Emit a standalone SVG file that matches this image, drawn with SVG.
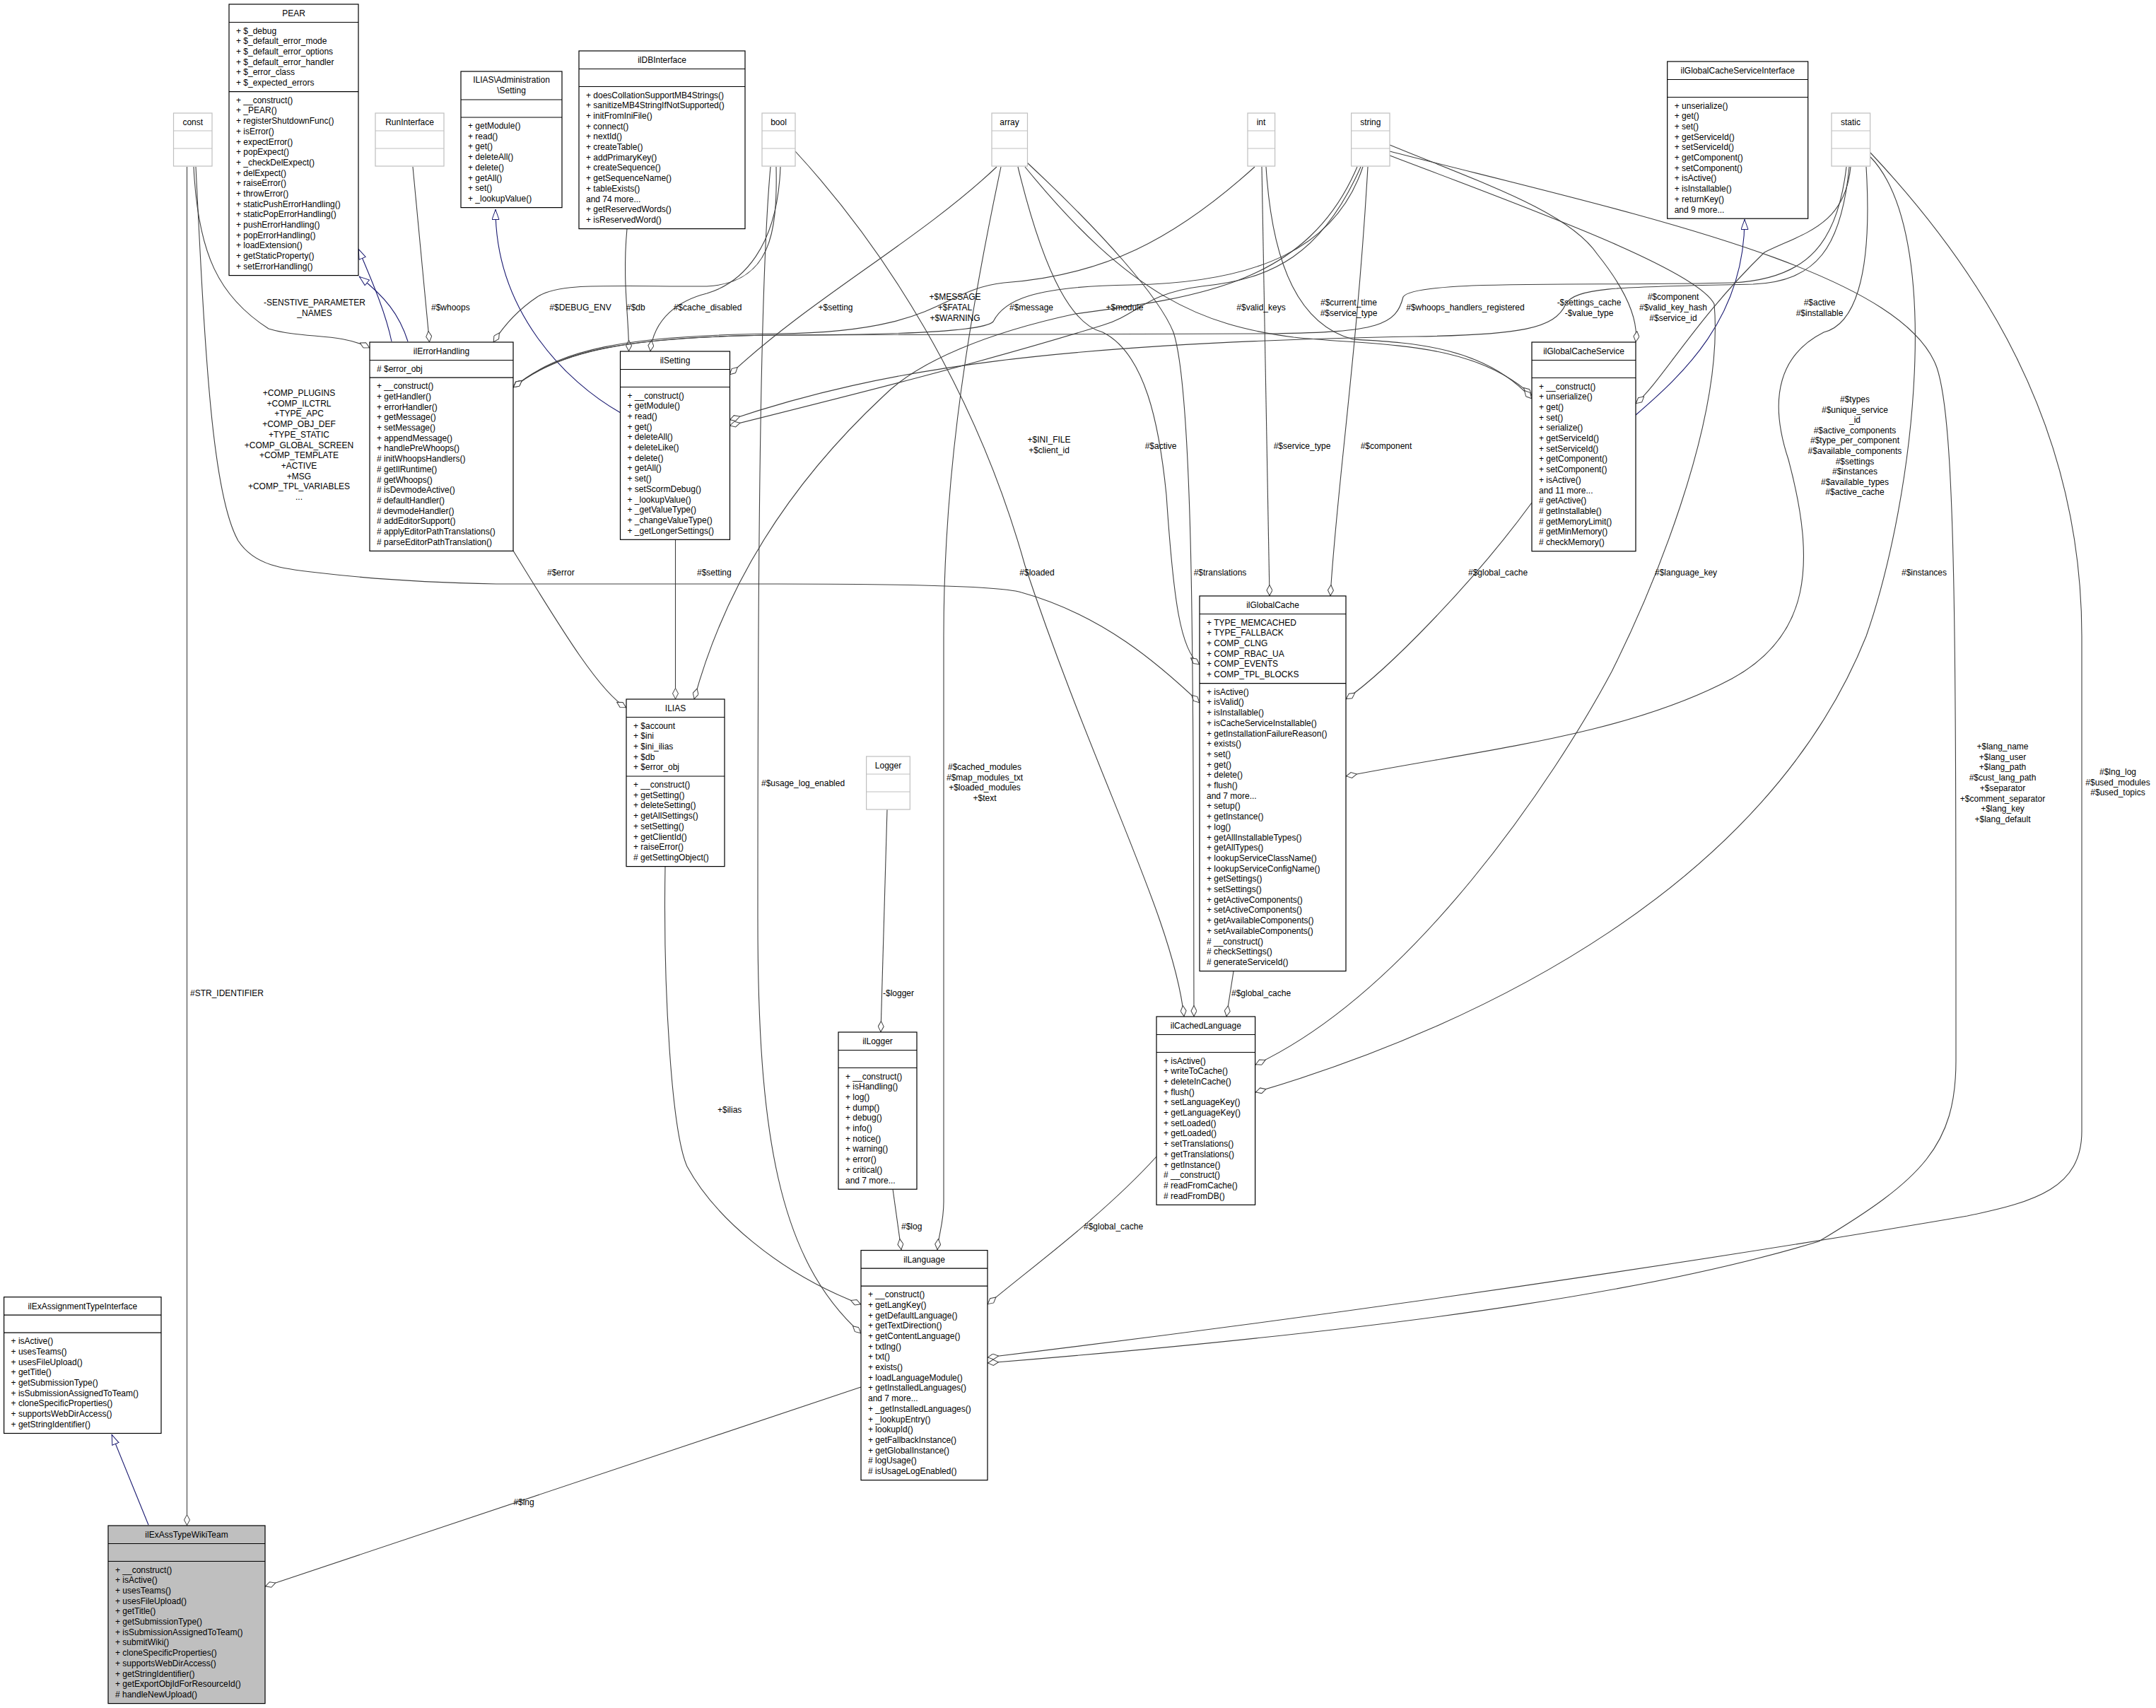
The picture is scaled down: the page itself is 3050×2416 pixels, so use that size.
<svg xmlns="http://www.w3.org/2000/svg" width="3050" height="2416" viewBox="0 0 3050 2416">
<style>
text{font-family:"Liberation Sans",Arial,sans-serif;font-size:12px;fill:#000}
.c{text-anchor:middle}
.nb{fill:#fff;stroke:#000;stroke-width:1.2}
.gb{fill:#fff;stroke:#bfbfbf;stroke-width:1.2}
.sl{stroke:#000;stroke-width:1.2}
.gl{stroke:#bfbfbf;stroke-width:1.2}
.e{fill:none;stroke:#404040;stroke-width:1.1;marker-end:url(#dia)}
.i{fill:none;stroke:#191970;stroke-width:1.1;marker-end:url(#tri)}
</style>
<defs>
<marker id="dia" viewBox="0 0 16 9" refX="16" refY="4.5" markerWidth="16" markerHeight="9" markerUnits="userSpaceOnUse" orient="auto"><path d="M0.5,4.5 L8,0.5 L15.5,4.5 L8,8.5 Z" fill="#fff" stroke="#404040"/></marker>
<marker id="tri" viewBox="0 0 15 11" refX="15" refY="5.5" markerWidth="15" markerHeight="11" markerUnits="userSpaceOnUse" orient="auto"><path d="M0.5,0.5 L14.5,5.5 L0.5,10.5 Z" fill="#fff" stroke="#191970"/></marker>
</defs>
<rect width="3050" height="2416" fill="#fff"/>

<g id="connectors">
<path class="i" d="M554,483 C545,440 525,395 507,352"/>
<path class="i" d="M577,483 C565,445 545,420 508,391"/>
<path class="i" d="M878,584 C800,540 701,440 701,296"/>
<path class="i" d="M210,2157 L158,2029"/>
<path class="i" d="M2314,587 C2380,530 2468,450 2468,310"/>

<path class="e" d="M274,236 C280,360 310,420 380,465 C430,480 480,470 523,492"/>
<path class="e" d="M277,236 C290,500 300,700 337,765 C360,800 400,805 449,810 C550,822 650,825 702,826 L1100,826 C1300,826 1420,830 1445,838 C1560,870 1640,940 1697,994"/>
<path class="e" d="M264.5,236 L264.5,2158"/>
<path class="e" d="M584,236 L607.5,484"/>
<path class="e" d="M1098,236 C1100,330 1090,400 1000,405 C850,405 790,400 760,420 C730,440 710,465 698,484"/>
<path class="e" d="M887,323.5 C880,400 890,450 889.5,497"/>
<path class="e" d="M1104,236 C1100,350 1050,400 1000,415 C960,425 925,450 920,497"/>
<path class="e" d="M1410,236 C1300,340 1150,420 1032,530"/>
<path class="e" d="M1775,236 C1660,340 1560,390 1420,400 C1330,410 1330,470 1100,472 C880,474 790,495 726,548"/>
<path class="e" d="M1928,236 C1890,350 1780,400 1600,403 C1460,405 1420,425 1405,455 C1390,470 1250,474 1100,474 C880,476 790,497 726,548"/>
<path class="e" d="M2612,236 C2600,340 2560,395 2450,400 C2250,405 2000,395 1985,420 C1975,460 1950,470 1800,472 L1100,474 C880,476 790,498 726,548"/>
<path class="e" d="M2616,236 C2605,350 2570,398 2480,402 C2300,406 2230,405 2215,430 C2200,465 2150,474 2000,476 C1500,485 1250,520 1032,594"/>
<path class="e" d="M1925,236 C1870,360 1800,395 1700,405 C1620,415 1610,445 1560,460 C1400,510 1200,560 1032,602"/>
<path class="e" d="M1450,236 C1600,420 1700,460 1830,477 C1950,490 2080,480 2167,559"/>
<path class="e" d="M1791,236 C1800,380 1840,460 1914,480 C2000,485 2100,490 2167,564"/>
<path class="e" d="M1966,205 C2100,260 2220,300 2260,360 C2300,410 2318,450 2314,484"/>
<path class="e" d="M2618,236 C2610,320 2550,330 2496,357 C2400,450 2350,540 2314,571"/>
<path class="e" d="M1920,236 C1850,400 1700,420 1521,444 C1400,470 1300,510 1250,560 C1100,700 1020,850 982,989"/>
<path class="e" d="M1440,236 C1480,400 1520,460 1560,470 C1620,500 1640,600 1650,700 C1660,850 1670,920 1697,940"/>
<path class="e" d="M1453,230 C1560,330 1640,420 1660,470 C1690,560 1688,1000 1689,1438"/>
<path class="e" d="M1125,214 C1250,350 1380,550 1450,800 C1550,1100 1660,1300 1675,1438"/>
<path class="e" d="M1785,236 C1790,500 1795,700 1796,843"/>
<path class="e" d="M1935,236 C1920,500 1890,700 1882,843"/>
<path class="e" d="M2167,711 C2080,830 1960,950 1904,989"/>
<path class="e" d="M2640,236 C2650,400 2620,460 2580,470 C2520,500 2500,560 2530,650 C2570,800 2560,900 2450,960 C2300,1040 2100,1060 1904,1098"/>
<path class="e" d="M1255,1145 L1246,1460"/>
<path class="e" d="M1745,1374 L1735,1438"/>
<path class="e" d="M1263,1682 L1275,1768"/>
<path class="e" d="M1416,236 C1360,500 1335,700 1335,900 L1335,1700 C1335,1730 1328,1745 1326,1768"/>
<path class="e" d="M941,1226 C938,1400 950,1600 972,1650 C1010,1720 1100,1800 1218,1845"/>
<path class="e" d="M1090,236 C1075,400 1072,800 1072,1300 C1072,1600 1100,1780 1218,1886"/>
<path class="e" d="M1636,1636 C1560,1720 1450,1800 1397,1845"/>
<path class="e" d="M1966,214 C2300,300 2690,380 2740,520 C2767,600 2767,900 2767,1500 C2767,1620 2720,1668 2573,1756 C2369,1818 2050,1875 1397,1928"/>
<path class="e" d="M2646,216 C2800,380 2945,600 2945,900 L2945,1600 C2945,1680 2880,1700 2783,1720 C2573,1756 2050,1841 1397,1920"/>
<path class="e" d="M1966,220 C2150,290 2400,380 2425,430 C2440,600 2330,850 2280,950 C2200,1100 2000,1400 1776,1506"/>
<path class="e" d="M2646,222 C2750,330 2710,700 2640,900 C2500,1250 2100,1450 1776,1545"/>
<path class="e" d="M1218,1962 L375,2244"/>
<path class="e" d="M726,779 C800,900 850,980 886,1001"/>
<path class="e" d="M955.5,763 L955.5,989"/>

<text class="c" x="445" y="432">-SENSTIVE_PARAMETER</text><text class="c" x="445" y="447">_NAMES</text>
<text class="c" x="423" y="560"><tspan x="423" dy="0">+COMP_PLUGINS</tspan><tspan x="423" dy="14.7">+COMP_ILCTRL</tspan><tspan x="423" dy="14.7">+TYPE_APC</tspan><tspan x="423" dy="14.7">+COMP_OBJ_DEF</tspan><tspan x="423" dy="14.7">+TYPE_STATIC</tspan><tspan x="423" dy="14.7">+COMP_GLOBAL_SCREEN</tspan><tspan x="423" dy="14.7">+COMP_TEMPLATE</tspan><tspan x="423" dy="14.7">+ACTIVE</tspan><tspan x="423" dy="14.7">+MSG</tspan><tspan x="423" dy="14.7">+COMP_TPL_VARIABLES</tspan><tspan x="423" dy="14.7">...</tspan></text>
<text x="269" y="1409">#STR_IDENTIFIER</text>
<text x="610" y="439">#$whoops</text>
<text class="c" x="821" y="439">#$DEBUG_ENV</text>
<text x="886" y="439">#$db</text>
<text class="c" x="1001" y="439">#$cache_disabled</text>
<text class="c" x="1182" y="439">+$setting</text>
<text class="c" x="1351" y="424">+$MESSAGE</text><text class="c" x="1351" y="439">+$FATAL</text><text class="c" x="1351" y="454">+$WARNING</text>
<text class="c" x="1459" y="439">#$message</text>
<text class="c" x="1591" y="439">+$module</text>
<text class="c" x="1784" y="439">#$valid_keys</text>
<text class="c" x="1908" y="432">#$current_time</text><text class="c" x="1908" y="447">#$service_type</text>
<text class="c" x="2073" y="439">#$whoops_handlers_registered</text>
<text class="c" x="2248" y="432">-$settings_cache</text><text class="c" x="2248" y="447">-$value_type</text>
<text class="c" x="2367" y="424">#$component</text><text class="c" x="2367" y="439">#$valid_key_hash</text><text class="c" x="2367" y="454">#$service_id</text>
<text class="c" x="2574" y="432">#$active</text><text class="c" x="2574" y="447">#$installable</text>
<text class="c" x="1484" y="626">+$INI_FILE</text><text class="c" x="1484" y="641">+$client_id</text>
<text class="c" x="1642" y="635">#$active</text>
<text class="c" x="1842" y="635">#$service_type</text>
<text class="c" x="1961" y="635">#$component</text>
<text x="774" y="814">#$error</text>
<text x="986" y="814">#$setting</text>
<text class="c" x="1467" y="814">#$loaded</text>
<text class="c" x="1726" y="814">#$translations</text>
<text x="2077" y="814">#$global_cache</text>
<text x="2341" y="814">#$language_key</text>
<text x="2690" y="814">#$instances</text>
<text class="c" x="2624" y="569"><tspan x="2624" dy="0">#$types</tspan><tspan x="2624" dy="14.6">#$unique_service</tspan><tspan x="2624" dy="14.6">_id</tspan><tspan x="2624" dy="14.6">#$active_components</tspan><tspan x="2624" dy="14.6">#$type_per_component</tspan><tspan x="2624" dy="14.6">#$available_components</tspan><tspan x="2624" dy="14.6">#$settings</tspan><tspan x="2624" dy="14.6">#$instances</tspan><tspan x="2624" dy="14.6">#$available_types</tspan><tspan x="2624" dy="14.6">#$active_cache</tspan></text>
<text class="c" x="2833" y="1060"><tspan x="2833" dy="0">+$lang_name</tspan><tspan x="2833" dy="14.7">+$lang_user</tspan><tspan x="2833" dy="14.7">+$lang_path</tspan><tspan x="2833" dy="14.7">#$cust_lang_path</tspan><tspan x="2833" dy="14.7">+$separator</tspan><tspan x="2833" dy="14.7">+$comment_separator</tspan><tspan x="2833" dy="14.7">+$lang_key</tspan><tspan x="2833" dy="14.7">+$lang_default</tspan></text>
<text class="c" x="2996" y="1096"><tspan x="2996" dy="0">#$lng_log</tspan><tspan x="2996" dy="14.7">#$used_modules</tspan><tspan x="2996" dy="14.7">#$used_topics</tspan></text>
<text x="1077" y="1112">#$usage_log_enabled</text>
<text class="c" x="1393" y="1089"><tspan x="1393" dy="0">#$cached_modules</tspan><tspan x="1393" dy="14.7">#$map_modules_txt</tspan><tspan x="1393" dy="14.7">+$loaded_modules</tspan><tspan x="1393" dy="14.7">+$text</tspan></text>
<text x="1249" y="1409">-$logger</text>
<text x="1742" y="1409">#$global_cache</text>
<text x="1275" y="1739">#$log</text>
<text x="1533" y="1739">#$global_cache</text>
<text x="1015" y="1574">+$ilias</text>
<text class="c" x="741" y="2129">#$lng</text>
</g>

<g id="PEAR">
<rect class="nb" x="324" y="6" width="183" height="383.6"/>
<line class="sl" x1="324" y1="31.5" x2="507" y2="31.5"/><line class="sl" x1="324" y1="129.7" x2="507" y2="129.7"/>
<text class="c" x="415.5" y="23">PEAR</text>
<text x="334" y="47.5"><tspan x="334" dy="0">+ $_debug</tspan><tspan x="334" dy="14.7">+ $_default_error_mode</tspan><tspan x="334" dy="14.7">+ $_default_error_options</tspan><tspan x="334" dy="14.7">+ $_default_error_handler</tspan><tspan x="334" dy="14.7">+ $_error_class</tspan><tspan x="334" dy="14.7">+ $_expected_errors</tspan></text>
<text x="334" y="145.7"><tspan x="334" dy="0">+ __construct()</tspan><tspan x="334" dy="14.7">+ _PEAR()</tspan><tspan x="334" dy="14.7">+ registerShutdownFunc()</tspan><tspan x="334" dy="14.7">+ isError()</tspan><tspan x="334" dy="14.7">+ expectError()</tspan><tspan x="334" dy="14.7">+ popExpect()</tspan><tspan x="334" dy="14.7">+ _checkDelExpect()</tspan><tspan x="334" dy="14.7">+ delExpect()</tspan><tspan x="334" dy="14.7">+ raiseError()</tspan><tspan x="334" dy="14.7">+ throwError()</tspan><tspan x="334" dy="14.7">+ staticPushErrorHandling()</tspan><tspan x="334" dy="14.7">+ staticPopErrorHandling()</tspan><tspan x="334" dy="14.7">+ pushErrorHandling()</tspan><tspan x="334" dy="14.7">+ popErrorHandling()</tspan><tspan x="334" dy="14.7">+ loadExtension()</tspan><tspan x="334" dy="14.7">+ getStaticProperty()</tspan><tspan x="334" dy="14.7">+ setErrorHandling()</tspan></text>
</g>

<g id="const"><rect class="gb" x="245.5" y="160" width="54.5" height="75"/><line class="gl" x1="245.5" y1="185" x2="300" y2="185"/><line class="gl" x1="245.5" y1="210" x2="300" y2="210"/><text class="c" x="272.75" y="177">const</text></g>
<g id="RunInterface"><rect class="gb" x="531" y="160" width="97" height="75"/><line class="gl" x1="531" y1="185" x2="628" y2="185"/><line class="gl" x1="531" y1="210" x2="628" y2="210"/><text class="c" x="579.5" y="177">RunInterface</text></g>
<g id="bool"><rect class="gb" x="1078" y="160" width="47" height="75"/><line class="gl" x1="1078" y1="185" x2="1125" y2="185"/><line class="gl" x1="1078" y1="210" x2="1125" y2="210"/><text class="c" x="1101.5" y="177">bool</text></g>
<g id="array"><rect class="gb" x="1403" y="160" width="50.5" height="75"/><line class="gl" x1="1403" y1="185" x2="1453.5" y2="185"/><line class="gl" x1="1403" y1="210" x2="1453.5" y2="210"/><text class="c" x="1428" y="177">array</text></g>
<g id="int"><rect class="gb" x="1765" y="160" width="38.6" height="75"/><line class="gl" x1="1765" y1="185" x2="1803.6" y2="185"/><line class="gl" x1="1765" y1="210" x2="1803.6" y2="210"/><text class="c" x="1784" y="177">int</text></g>
<g id="string"><rect class="gb" x="1911.6" y="160" width="54.4" height="75"/><line class="gl" x1="1911.6" y1="185" x2="1966" y2="185"/><line class="gl" x1="1911.6" y1="210" x2="1966" y2="210"/><text class="c" x="1938.8" y="177">string</text></g>
<g id="static"><rect class="gb" x="2591" y="160" width="54.6" height="75"/><line class="gl" x1="2591" y1="185" x2="2645.6" y2="185"/><line class="gl" x1="2591" y1="210" x2="2645.6" y2="210"/><text class="c" x="2618" y="177">static</text></g>
<g id="Logger"><rect class="gb" x="1225.6" y="1070" width="61.7" height="75"/><line class="gl" x1="1225.6" y1="1095" x2="1287.3" y2="1095"/><line class="gl" x1="1225.6" y1="1120" x2="1287.3" y2="1120"/><text class="c" x="1256.5" y="1087">Logger</text></g>

<g id="AdminSetting">
<rect class="nb" x="652" y="101" width="143" height="192.6"/>
<line class="sl" x1="652" y1="141" x2="795" y2="141"/><line class="sl" x1="652" y1="166" x2="795" y2="166"/>
<text class="c" x="723.5" y="117">ILIAS\Administration</text><text class="c" x="723.5" y="132">\Setting</text>
<text x="662" y="182"><tspan x="662" dy="0">+ getModule()</tspan><tspan x="662" dy="14.7">+ read()</tspan><tspan x="662" dy="14.7">+ get()</tspan><tspan x="662" dy="14.7">+ deleteAll()</tspan><tspan x="662" dy="14.7">+ delete()</tspan><tspan x="662" dy="14.7">+ getAll()</tspan><tspan x="662" dy="14.7">+ set()</tspan><tspan x="662" dy="14.7">+ _lookupValue()</tspan></text>
</g>

<g id="ilDBInterface">
<rect class="nb" x="819" y="72" width="235" height="251.6"/>
<line class="sl" x1="819" y1="97.5" x2="1054" y2="97.5"/><line class="sl" x1="819" y1="122.5" x2="1054" y2="122.5"/>
<text class="c" x="936.5" y="89">ilDBInterface</text>
<text x="829" y="138.5"><tspan x="829" dy="0">+ doesCollationSupportMB4Strings()</tspan><tspan x="829" dy="14.7">+ sanitizeMB4StringIfNotSupported()</tspan><tspan x="829" dy="14.7">+ initFromIniFile()</tspan><tspan x="829" dy="14.7">+ connect()</tspan><tspan x="829" dy="14.7">+ nextId()</tspan><tspan x="829" dy="14.7">+ createTable()</tspan><tspan x="829" dy="14.7">+ addPrimaryKey()</tspan><tspan x="829" dy="14.7">+ createSequence()</tspan><tspan x="829" dy="14.7">+ getSequenceName()</tspan><tspan x="829" dy="14.7">+ tableExists()</tspan><tspan x="829" dy="14.7">and 74 more...</tspan><tspan x="829" dy="14.7">+ getReservedWords()</tspan><tspan x="829" dy="14.7">+ isReservedWord()</tspan></text>
</g>

<g id="ilGlobalCacheServiceInterface">
<rect class="nb" x="2358.7" y="87" width="199" height="222.2"/>
<line class="sl" x1="2358.7" y1="112.5" x2="2557.7" y2="112.5"/><line class="sl" x1="2358.7" y1="137.5" x2="2557.7" y2="137.5"/>
<text class="c" x="2458.2" y="104">ilGlobalCacheServiceInterface</text>
<text x="2368.7" y="153.5"><tspan x="2368.7" dy="0">+ unserialize()</tspan><tspan x="2368.7" dy="14.7">+ get()</tspan><tspan x="2368.7" dy="14.7">+ set()</tspan><tspan x="2368.7" dy="14.7">+ getServiceId()</tspan><tspan x="2368.7" dy="14.7">+ setServiceId()</tspan><tspan x="2368.7" dy="14.7">+ getComponent()</tspan><tspan x="2368.7" dy="14.7">+ setComponent()</tspan><tspan x="2368.7" dy="14.7">+ isActive()</tspan><tspan x="2368.7" dy="14.7">+ isInstallable()</tspan><tspan x="2368.7" dy="14.7">+ returnKey()</tspan><tspan x="2368.7" dy="14.7">and 9 more...</tspan></text>
</g>

<g id="ilErrorHandling">
<rect class="nb" x="523" y="484" width="203" height="295.4"/>
<line class="sl" x1="523" y1="509.5" x2="726" y2="509.5"/><line class="sl" x1="523" y1="534.2" x2="726" y2="534.2"/>
<text class="c" x="624.5" y="501">ilErrorHandling</text>
<text x="533" y="525.5"># $error_obj</text>
<text x="533" y="550.2"><tspan x="533" dy="0">+ __construct()</tspan><tspan x="533" dy="14.7">+ getHandler()</tspan><tspan x="533" dy="14.7">+ errorHandler()</tspan><tspan x="533" dy="14.7">+ getMessage()</tspan><tspan x="533" dy="14.7">+ setMessage()</tspan><tspan x="533" dy="14.7">+ appendMessage()</tspan><tspan x="533" dy="14.7">+ handlePreWhoops()</tspan><tspan x="533" dy="14.7"># initWhoopsHandlers()</tspan><tspan x="533" dy="14.7"># getIlRuntime()</tspan><tspan x="533" dy="14.7"># getWhoops()</tspan><tspan x="533" dy="14.7"># isDevmodeActive()</tspan><tspan x="533" dy="14.7"># defaultHandler()</tspan><tspan x="533" dy="14.7"># devmodeHandler()</tspan><tspan x="533" dy="14.7"># addEditorSupport()</tspan><tspan x="533" dy="14.7"># applyEditorPathTranslations()</tspan><tspan x="533" dy="14.7"># parseEditorPathTranslation()</tspan></text>
</g>

<g id="ilSetting">
<rect class="nb" x="877.5" y="497" width="155" height="266.3"/>
<line class="sl" x1="877.5" y1="522.5" x2="1032.5" y2="522.5"/><line class="sl" x1="877.5" y1="547.5" x2="1032.5" y2="547.5"/>
<text class="c" x="955" y="514">ilSetting</text>
<text x="887.5" y="563.5"><tspan x="887.5" dy="0">+ __construct()</tspan><tspan x="887.5" dy="14.7">+ getModule()</tspan><tspan x="887.5" dy="14.7">+ read()</tspan><tspan x="887.5" dy="14.7">+ get()</tspan><tspan x="887.5" dy="14.7">+ deleteAll()</tspan><tspan x="887.5" dy="14.7">+ deleteLike()</tspan><tspan x="887.5" dy="14.7">+ delete()</tspan><tspan x="887.5" dy="14.7">+ getAll()</tspan><tspan x="887.5" dy="14.7">+ set()</tspan><tspan x="887.5" dy="14.7">+ setScormDebug()</tspan><tspan x="887.5" dy="14.7">+ _lookupValue()</tspan><tspan x="887.5" dy="14.7">+ _getValueType()</tspan><tspan x="887.5" dy="14.7">+ _changeValueType()</tspan><tspan x="887.5" dy="14.7">+ _getLongerSettings()</tspan></text>
</g>

<g id="ilGlobalCacheService">
<rect class="nb" x="2167" y="484" width="147" height="295.7"/>
<line class="sl" x1="2167" y1="509.5" x2="2314" y2="509.5"/><line class="sl" x1="2167" y1="534.5" x2="2314" y2="534.5"/>
<text class="c" x="2240.5" y="501">ilGlobalCacheService</text>
<text x="2177" y="550.5"><tspan x="2177" dy="0">+ __construct()</tspan><tspan x="2177" dy="14.7">+ unserialize()</tspan><tspan x="2177" dy="14.7">+ get()</tspan><tspan x="2177" dy="14.7">+ set()</tspan><tspan x="2177" dy="14.7">+ serialize()</tspan><tspan x="2177" dy="14.7">+ getServiceId()</tspan><tspan x="2177" dy="14.7">+ setServiceId()</tspan><tspan x="2177" dy="14.7">+ getComponent()</tspan><tspan x="2177" dy="14.7">+ setComponent()</tspan><tspan x="2177" dy="14.7">+ isActive()</tspan><tspan x="2177" dy="14.7">and 11 more...</tspan><tspan x="2177" dy="14.7"># getActive()</tspan><tspan x="2177" dy="14.7"># getInstallable()</tspan><tspan x="2177" dy="14.7"># getMemoryLimit()</tspan><tspan x="2177" dy="14.7"># getMinMemory()</tspan><tspan x="2177" dy="14.7"># checkMemory()</tspan></text>
</g>

<g id="ILIAS">
<rect class="nb" x="886" y="989" width="139" height="236.6"/>
<line class="sl" x1="886" y1="1014.5" x2="1025" y2="1014.5"/><line class="sl" x1="886" y1="1098" x2="1025" y2="1098"/>
<text class="c" x="955.5" y="1006">ILIAS</text>
<text x="896" y="1030.5"><tspan x="896" dy="0">+ $account</tspan><tspan x="896" dy="14.7">+ $ini</tspan><tspan x="896" dy="14.7">+ $ini_ilias</tspan><tspan x="896" dy="14.7">+ $db</tspan><tspan x="896" dy="14.7">+ $error_obj</tspan></text>
<text x="896" y="1114"><tspan x="896" dy="0">+ __construct()</tspan><tspan x="896" dy="14.7">+ getSetting()</tspan><tspan x="896" dy="14.7">+ deleteSetting()</tspan><tspan x="896" dy="14.7">+ getAllSettings()</tspan><tspan x="896" dy="14.7">+ setSetting()</tspan><tspan x="896" dy="14.7">+ getClientId()</tspan><tspan x="896" dy="14.7">+ raiseError()</tspan><tspan x="896" dy="14.7"># getSettingObject()</tspan></text>
</g>

<g id="ilGlobalCache">
<rect class="nb" x="1697" y="843" width="207" height="530.6"/>
<line class="sl" x1="1697" y1="868.5" x2="1904" y2="868.5"/><line class="sl" x1="1697" y1="966.7" x2="1904" y2="966.7"/>
<text class="c" x="1800.5" y="860">ilGlobalCache</text>
<text x="1707" y="884.5"><tspan x="1707" dy="0">+ TYPE_MEMCACHED</tspan><tspan x="1707" dy="14.7">+ TYPE_FALLBACK</tspan><tspan x="1707" dy="14.7">+ COMP_CLNG</tspan><tspan x="1707" dy="14.7">+ COMP_RBAC_UA</tspan><tspan x="1707" dy="14.7">+ COMP_EVENTS</tspan><tspan x="1707" dy="14.7">+ COMP_TPL_BLOCKS</tspan></text>
<text x="1707" y="982.7"><tspan x="1707" dy="0">+ isActive()</tspan><tspan x="1707" dy="14.7">+ isValid()</tspan><tspan x="1707" dy="14.7">+ isInstallable()</tspan><tspan x="1707" dy="14.7">+ isCacheServiceInstallable()</tspan><tspan x="1707" dy="14.7">+ getInstallationFailureReason()</tspan><tspan x="1707" dy="14.7">+ exists()</tspan><tspan x="1707" dy="14.7">+ set()</tspan><tspan x="1707" dy="14.7">+ get()</tspan><tspan x="1707" dy="14.7">+ delete()</tspan><tspan x="1707" dy="14.7">+ flush()</tspan><tspan x="1707" dy="14.7">and 7 more...</tspan><tspan x="1707" dy="14.7">+ setup()</tspan><tspan x="1707" dy="14.7">+ getInstance()</tspan><tspan x="1707" dy="14.7">+ log()</tspan><tspan x="1707" dy="14.7">+ getAllInstallableTypes()</tspan><tspan x="1707" dy="14.7">+ getAllTypes()</tspan><tspan x="1707" dy="14.7">+ lookupServiceClassName()</tspan><tspan x="1707" dy="14.7">+ lookupServiceConfigName()</tspan><tspan x="1707" dy="14.7">+ getSettings()</tspan><tspan x="1707" dy="14.7">+ setSettings()</tspan><tspan x="1707" dy="14.7">+ getActiveComponents()</tspan><tspan x="1707" dy="14.7">+ setActiveComponents()</tspan><tspan x="1707" dy="14.7">+ getAvailableComponents()</tspan><tspan x="1707" dy="14.7">+ setAvailableComponents()</tspan><tspan x="1707" dy="14.7"># __construct()</tspan><tspan x="1707" dy="14.7"># checkSettings()</tspan><tspan x="1707" dy="14.7"># generateServiceId()</tspan></text>
</g>

<g id="ilLogger">
<rect class="nb" x="1186" y="1460" width="111" height="222.2"/>
<line class="sl" x1="1186" y1="1485.5" x2="1297" y2="1485.5"/><line class="sl" x1="1186" y1="1510.5" x2="1297" y2="1510.5"/>
<text class="c" x="1241.5" y="1477">ilLogger</text>
<text x="1196" y="1526.5"><tspan x="1196" dy="0">+ __construct()</tspan><tspan x="1196" dy="14.7">+ isHandling()</tspan><tspan x="1196" dy="14.7">+ log()</tspan><tspan x="1196" dy="14.7">+ dump()</tspan><tspan x="1196" dy="14.7">+ debug()</tspan><tspan x="1196" dy="14.7">+ info()</tspan><tspan x="1196" dy="14.7">+ notice()</tspan><tspan x="1196" dy="14.7">+ warning()</tspan><tspan x="1196" dy="14.7">+ error()</tspan><tspan x="1196" dy="14.7">+ critical()</tspan><tspan x="1196" dy="14.7">and 7 more...</tspan></text>
</g>

<g id="ilCachedLanguage">
<rect class="nb" x="1636" y="1438" width="139.6" height="266.3"/>
<line class="sl" x1="1636" y1="1463.5" x2="1775.6" y2="1463.5"/><line class="sl" x1="1636" y1="1488.5" x2="1775.6" y2="1488.5"/>
<text class="c" x="1705.8" y="1455">ilCachedLanguage</text>
<text x="1646" y="1504.5"><tspan x="1646" dy="0">+ isActive()</tspan><tspan x="1646" dy="14.7">+ writeToCache()</tspan><tspan x="1646" dy="14.7">+ deleteInCache()</tspan><tspan x="1646" dy="14.7">+ flush()</tspan><tspan x="1646" dy="14.7">+ setLanguageKey()</tspan><tspan x="1646" dy="14.7">+ getLanguageKey()</tspan><tspan x="1646" dy="14.7">+ setLoaded()</tspan><tspan x="1646" dy="14.7">+ getLoaded()</tspan><tspan x="1646" dy="14.7">+ setTranslations()</tspan><tspan x="1646" dy="14.7">+ getTranslations()</tspan><tspan x="1646" dy="14.7">+ getInstance()</tspan><tspan x="1646" dy="14.7"># __construct()</tspan><tspan x="1646" dy="14.7"># readFromCache()</tspan><tspan x="1646" dy="14.7"># readFromDB()</tspan></text>
</g>

<g id="ilLanguage">
<rect class="nb" x="1218" y="1768.6" width="179" height="325.1"/>
<line class="sl" x1="1218" y1="1794.1" x2="1397" y2="1794.1"/><line class="sl" x1="1218" y1="1819.1" x2="1397" y2="1819.1"/>
<text class="c" x="1307.5" y="1785.6">ilLanguage</text>
<text x="1228" y="1835.1"><tspan x="1228" dy="0">+ __construct()</tspan><tspan x="1228" dy="14.7">+ getLangKey()</tspan><tspan x="1228" dy="14.7">+ getDefaultLanguage()</tspan><tspan x="1228" dy="14.7">+ getTextDirection()</tspan><tspan x="1228" dy="14.7">+ getContentLanguage()</tspan><tspan x="1228" dy="14.7">+ txtlng()</tspan><tspan x="1228" dy="14.7">+ txt()</tspan><tspan x="1228" dy="14.7">+ exists()</tspan><tspan x="1228" dy="14.7">+ loadLanguageModule()</tspan><tspan x="1228" dy="14.7">+ getInstalledLanguages()</tspan><tspan x="1228" dy="14.7">and 7 more...</tspan><tspan x="1228" dy="14.7">+ _getInstalledLanguages()</tspan><tspan x="1228" dy="14.7">+ _lookupEntry()</tspan><tspan x="1228" dy="14.7">+ lookupId()</tspan><tspan x="1228" dy="14.7">+ getFallbackInstance()</tspan><tspan x="1228" dy="14.7">+ getGlobalInstance()</tspan><tspan x="1228" dy="14.7"># logUsage()</tspan><tspan x="1228" dy="14.7"># isUsageLogEnabled()</tspan></text>
</g>

<g id="ilExAssignmentTypeInterface">
<rect class="nb" x="5.6" y="1834.7" width="222.4" height="192.8"/>
<line class="sl" x1="5.6" y1="1860.2" x2="228" y2="1860.2"/><line class="sl" x1="5.6" y1="1885.2" x2="228" y2="1885.2"/>
<text class="c" x="116.8" y="1851.7">ilExAssignmentTypeInterface</text>
<text x="15.6" y="1901.2"><tspan x="15.6" dy="0">+ isActive()</tspan><tspan x="15.6" dy="14.7">+ usesTeams()</tspan><tspan x="15.6" dy="14.7">+ usesFileUpload()</tspan><tspan x="15.6" dy="14.7">+ getTitle()</tspan><tspan x="15.6" dy="14.7">+ getSubmissionType()</tspan><tspan x="15.6" dy="14.7">+ isSubmissionAssignedToTeam()</tspan><tspan x="15.6" dy="14.7">+ cloneSpecificProperties()</tspan><tspan x="15.6" dy="14.7">+ supportsWebDirAccess()</tspan><tspan x="15.6" dy="14.7">+ getStringIdentifier()</tspan></text>
</g>

<g id="ilExAssTypeWikiTeam">
<rect x="153" y="2158" width="222" height="251.6" fill="#bfbfbf" stroke="#000" stroke-width="1.2"/>
<line class="sl" x1="153" y1="2183.5" x2="375" y2="2183.5"/><line class="sl" x1="153" y1="2208.5" x2="375" y2="2208.5"/>
<text class="c" x="264" y="2175">ilExAssTypeWikiTeam</text>
<text x="163" y="2224.5"><tspan x="163" dy="0">+ __construct()</tspan><tspan x="163" dy="14.7">+ isActive()</tspan><tspan x="163" dy="14.7">+ usesTeams()</tspan><tspan x="163" dy="14.7">+ usesFileUpload()</tspan><tspan x="163" dy="14.7">+ getTitle()</tspan><tspan x="163" dy="14.7">+ getSubmissionType()</tspan><tspan x="163" dy="14.7">+ isSubmissionAssignedToTeam()</tspan><tspan x="163" dy="14.7">+ submitWiki()</tspan><tspan x="163" dy="14.7">+ cloneSpecificProperties()</tspan><tspan x="163" dy="14.7">+ supportsWebDirAccess()</tspan><tspan x="163" dy="14.7">+ getStringIdentifier()</tspan><tspan x="163" dy="14.7">+ getExportObjIdForResourceId()</tspan><tspan x="163" dy="14.7"># handleNewUpload()</tspan></text>
</g>
</svg>
